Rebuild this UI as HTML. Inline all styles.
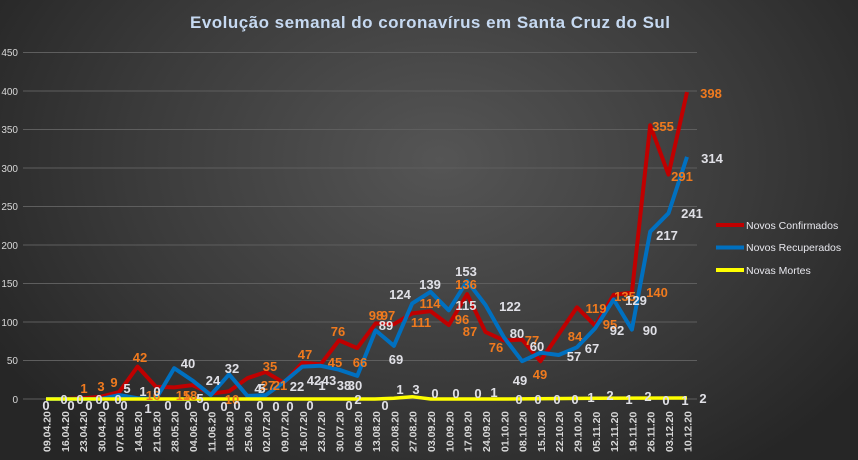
<!DOCTYPE html>
<html><head><meta charset="utf-8"><style>
html,body{margin:0;padding:0;width:858px;height:460px;overflow:hidden;}
body{background:radial-gradient(ellipse 520px 380px at 440px 160px,#555 0%,#3a3a3a 60%,#262626 100%);font-family:"Liberation Sans",sans-serif;}
svg{position:absolute;left:0;top:0}
</style></head><body>
<svg width="858" height="460" xmlns="http://www.w3.org/2000/svg" font-family="Liberation Sans, sans-serif">
<text x="430" y="28" text-anchor="middle" fill="#c6d9f1" font-size="17" font-weight="bold" textLength="480">Evolução semanal do coronavírus em Santa Cruz do Sul</text>
<g stroke="#5e5e5e" stroke-width="1">
<line x1="23" y1="52.5" x2="697" y2="52.5"/><line x1="23" y1="91" x2="697" y2="91"/><line x1="23" y1="129.5" x2="697" y2="129.5"/><line x1="23" y1="168" x2="697" y2="168"/><line x1="23" y1="206.5" x2="697" y2="206.5"/><line x1="23" y1="245" x2="697" y2="245"/><line x1="23" y1="283.5" x2="697" y2="283.5"/><line x1="23" y1="322" x2="697" y2="322"/><line x1="23" y1="360.5" x2="697" y2="360.5"/><line x1="23" y1="399" x2="697" y2="399"/>
</g>
<g fill="#d8d8d8" font-size="10" text-anchor="end">
<text x="18" y="56">450</text><text x="18" y="95">400</text><text x="18" y="133">350</text><text x="18" y="172">300</text><text x="18" y="210">250</text><text x="18" y="249">200</text><text x="18" y="287">150</text><text x="18" y="326">100</text><text x="18" y="364">50</text><text x="18" y="403">0</text>
</g>
<polyline fill="none" stroke="#c00000" stroke-width="4" stroke-linejoin="round" points="46,399 64.3,399 82.6,398.2 100.9,396.7 119.2,392.1 137.6,366.6 155.9,386.7 174.2,387.4 192.5,385.1 210.8,393.6 229.1,391.3 247.4,378.2 265.7,372 284,382.8 302.3,362.8 320.7,364.3 339,340.4 357.3,348.1 375.6,323.4 393.9,324.2 412.2,313.4 430.5,311.1 448.8,325 467.1,294.1 485.4,331.9 503.9,340.4 522.1,339.6 540.4,361.2 558.7,334.2 577,307.3 595.3,325.8 613.6,294.9 631.9,292.6 650.2,125.3 668.5,174.6 687,92.1"/>
<polyline fill="none" stroke="#0070c0" stroke-width="4" stroke-linejoin="round" points="46,399 64.3,399 82.6,399 100.9,399 119.2,395.1 137.6,398.2 155.9,399 174.2,368.2 192.5,380.5 210.8,395.1 229.1,374.3 247.4,395.9 265.7,395.1 284,382 302.3,366.6 320.7,365.8 339,369.7 357.3,375.9 375.6,330.4 393.9,345.8 412.2,303.4 430.5,291.8 448.8,310.3 467.1,281 485.4,304.9 503.9,337.3 522.1,361.2 540.4,352.7 558.7,355 577,347.3 595.3,328.1 613.6,299.5 631.9,329.6 650.2,231.7 668.5,213.2 687,156.9"/>
<polyline fill="none" stroke="#ffff00" stroke-width="3.5" points="46,399 375,399 393.9,398.2 412.2,396.7 430.5,399 503.9,399 595.3,398.2 687,398"/>
<g fill="#f07a1e" font-size="13" font-weight="bold" text-anchor="middle">
<text x="84" y="393">1</text><text x="101" y="391">3</text><text x="114" y="387">9</text><text x="140" y="362">42</text><text x="153" y="400">16</text><text x="183" y="400">15</text><text x="190" y="400">18</text><text x="232" y="404">10</text><text x="270" y="371">35</text><text x="268" y="390">27</text><text x="280" y="390">21</text><text x="305" y="359">47</text><text x="335" y="367">45</text><text x="338" y="336">76</text><text x="360" y="367">66</text><text x="376" y="320">98</text><text x="388" y="320">97</text><text x="421" y="327">111</text><text x="430" y="308">114</text><text x="462" y="324">96</text><text x="466" y="289">136</text><text x="470" y="336">87</text><text x="496" y="352">76</text><text x="532" y="345">77</text><text x="540" y="379">49</text><text x="575" y="341">84</text><text x="596" y="313">119</text><text x="610" y="329">95</text><text x="625" y="301">135</text><text x="657" y="297">140</text><text x="663" y="131">355</text><text x="682" y="181">291</text><text x="711" y="98">398</text>
</g>
<g fill="#e0e0e6" font-size="13" font-weight="bold" text-anchor="middle">
<text x="127" y="393">5</text><text x="143" y="396">1</text><text x="157" y="396">0</text><text x="188" y="368">40</text><text x="213" y="385">24</text><text x="200" y="403">5</text><text x="232" y="373">32</text><text x="258" y="393">4</text><text x="262" y="393">5</text><text x="297" y="391">22</text><text x="314" y="385">42</text><text x="329" y="385">43</text><text x="344" y="390">38</text><text x="355" y="390">30</text><text x="386" y="330">89</text><text x="396" y="364">69</text><text x="400" y="299">124</text><text x="430" y="289">139</text><text x="466" y="310">115</text><text x="466" y="276">153</text><text x="510" y="311">122</text><text x="517" y="338">80</text><text x="520" y="385">49</text><text x="537" y="351">60</text><text x="574" y="361">57</text><text x="592" y="353">67</text><text x="617" y="335">92</text><text x="636" y="305">129</text><text x="650" y="335">90</text><text x="667" y="240">217</text><text x="692" y="218">241</text><text x="712" y="163">314</text>
<text x="46" y="410">0</text><text x="64" y="404">0</text><text x="71" y="410">0</text><text x="80" y="404">0</text><text x="89" y="410">0</text><text x="99" y="404">0</text><text x="106" y="410">0</text><text x="118" y="404">0</text><text x="124" y="410">0</text><text x="148" y="413">1</text><text x="168" y="410">0</text><text x="188" y="410">0</text><text x="206" y="411">0</text><text x="224" y="411">0</text><text x="237" y="410">0</text><text x="260" y="410">0</text><text x="276" y="411">0</text><text x="290" y="411">0</text><text x="310" y="410">0</text><text x="322" y="390">1</text><text x="349" y="410">0</text><text x="358" y="404">2</text><text x="385" y="410">0</text><text x="400" y="394">1</text><text x="416" y="394">3</text><text x="435" y="398">0</text><text x="456" y="398">0</text><text x="478" y="398">0</text><text x="494" y="397">1</text><text x="519" y="404">0</text><text x="538" y="404">0</text><text x="557" y="404">0</text><text x="575" y="404">0</text><text x="591" y="402">1</text><text x="610" y="400">2</text><text x="629" y="404">1</text><text x="648" y="401">2</text><text x="666" y="405">0</text><text x="685" y="405">1</text><text x="703" y="403">2</text>
</g>
<g fill="#d8d8d8" font-size="10.5" font-weight="bold">
<text transform="translate(50.5,452) rotate(-90)">09.04.20</text><text transform="translate(68.8,452) rotate(-90)">16.04.20</text><text transform="translate(87.1,452) rotate(-90)">23.04.20</text><text transform="translate(105.4,452) rotate(-90)">30.04.20</text><text transform="translate(123.7,452) rotate(-90)">07.05.20</text><text transform="translate(142.1,452) rotate(-90)">14.05.20</text><text transform="translate(160.4,452) rotate(-90)">21.05.20</text><text transform="translate(178.7,452) rotate(-90)">28.05.20</text><text transform="translate(197,452) rotate(-90)">04.06.20</text><text transform="translate(215.3,452) rotate(-90)">11.06.20</text><text transform="translate(233.6,452) rotate(-90)">18.06.20</text><text transform="translate(251.9,452) rotate(-90)">25.06.20</text><text transform="translate(270.2,452) rotate(-90)">02.07.20</text><text transform="translate(288.5,452) rotate(-90)">09.07.20</text><text transform="translate(306.8,452) rotate(-90)">16.07.20</text><text transform="translate(325.2,452) rotate(-90)">23.07.20</text><text transform="translate(343.5,452) rotate(-90)">30.07.20</text><text transform="translate(361.8,452) rotate(-90)">06.08.20</text><text transform="translate(380.1,452) rotate(-90)">13.08.20</text><text transform="translate(398.4,452) rotate(-90)">20.08.20</text><text transform="translate(416.7,452) rotate(-90)">27.08.20</text><text transform="translate(435,452) rotate(-90)">03.09.20</text><text transform="translate(453.3,452) rotate(-90)">10.09.20</text><text transform="translate(471.6,452) rotate(-90)">17.09.20</text><text transform="translate(489.9,452) rotate(-90)">24.09.20</text><text transform="translate(508.4,452) rotate(-90)">01.10.20</text><text transform="translate(526.6,452) rotate(-90)">08.10.20</text><text transform="translate(544.9,452) rotate(-90)">15.10.20</text><text transform="translate(563.2,452) rotate(-90)">22.10.20</text><text transform="translate(581.5,452) rotate(-90)">29.10.20</text><text transform="translate(599.8,452) rotate(-90)">05.11.20</text><text transform="translate(618.1,452) rotate(-90)">12.11.20</text><text transform="translate(636.4,452) rotate(-90)">19.11.20</text><text transform="translate(654.7,452) rotate(-90)">26.11.20</text><text transform="translate(673,452) rotate(-90)">03.12.20</text><text transform="translate(691.5,452) rotate(-90)">10.12.20</text>
</g>
<line x1="716" y1="225" x2="744" y2="225" stroke="#c00000" stroke-width="4"/>
<line x1="716" y1="247.5" x2="744" y2="247.5" stroke="#0070c0" stroke-width="4"/>
<line x1="716" y1="270" x2="744" y2="270" stroke="#ffff00" stroke-width="4"/>
<g fill="#e8e8ee" font-size="10.5">
<text x="746" y="229">Novos Confirmados</text><text x="746" y="251">Novos Recuperados</text><text x="746" y="274">Novas Mortes</text>
</g>
</svg>
</body></html>
